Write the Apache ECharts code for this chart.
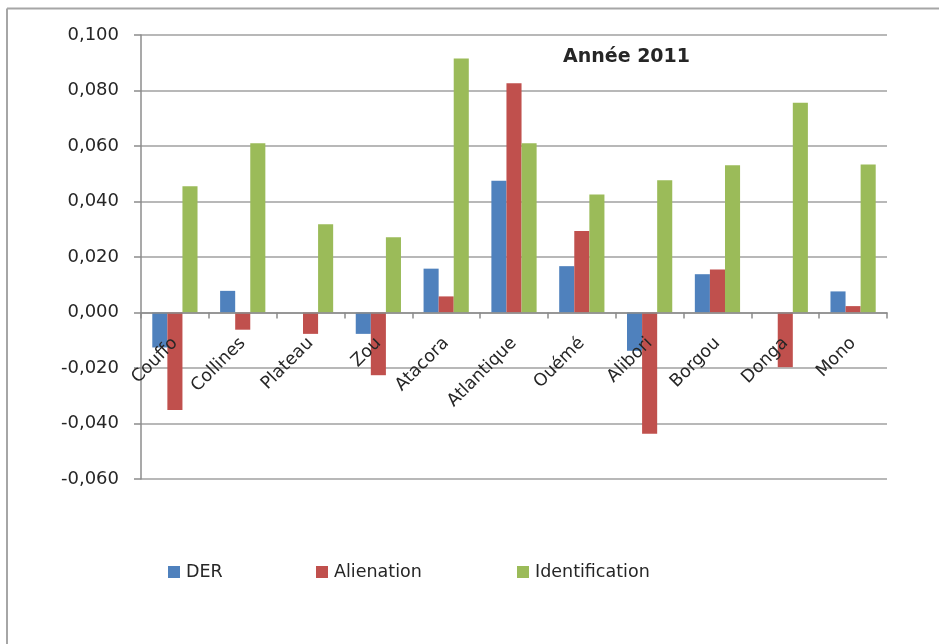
<!DOCTYPE html>
<html>
<head>
<meta charset="utf-8">
<script src="https://cdn.jsdelivr.net/npm/echarts@6/dist/echarts.min.js"></script>
<style>
html,body{margin:0;padding:0;background:#fff;}
#c{width:939px;height:644px;}
</style>
</head>
<body>
<div id="c"></div>
<script>
const categories = ['Couffo','Collines','Plateau','Zou','Atacora','Atlantique','Ouémé','Alibori','Borgou','Donga','Mono'];
const seriesNames = ['DER','Alienation','Identification'];
const derValues = [-0.0126, 0.0078, 0, -0.0077, 0.0158, 0.0475, 0.0167, -0.0138, 0.0138, 0, 0.0076];
const alienationValues = [-0.0351, -0.0062, -0.0077, -0.0226, 0.0058, 0.0826, 0.0294, -0.0437, 0.0155, -0.0197, 0.0023];
const identificationValues = [0.0455, 0.0610, 0.0318, 0.0271, 0.0915, 0.0610, 0.0425, 0.0477, 0.0531, 0.0756, 0.0533];
const yTicks = {min:-0.06, max:0.1, interval:0.02};
const titleText = 'Année 2011';

const colors = ['#4F81BD','#C0504D','#9BBB59'];
const font = 'DejaVu Sans';
const gridTop = 35, gridBottom = 165, chartH = 644;
const plotH = chartH - gridTop - gridBottom;
const zeroOffset = -((0 - yTicks.min) / (yTicks.max - yTicks.min)) * plotH;
const chart = echarts.init(document.getElementById('c'), null, {renderer:'canvas'});

function legendFor(i, left){
  return {
    data:[seriesNames[i]], left:left, top:563, itemWidth:12, itemHeight:12, itemGap:0,
    icon:'rect', padding:0,
    textStyle:{fontFamily:font, fontSize:17.5, color:'#262626', padding:[0,0,0,1]}
  };
}

chart.setOption({
  animation:false,
  color:colors,
  title:{
    text:titleText, left:563, top:48, padding:0,
    textStyle:{fontFamily:font, fontSize:19, fontWeight:'bold', color:'#262626'}
  },
  legend:[legendFor(0,168), legendFor(1,316), legendFor(2,517)],
  grid:{left:141, right:52, top:gridTop, bottom:gridBottom, containLabel:false},
  xAxis:{
    type:'category', data:categories, offset:zeroOffset, z:10,
    axisLine:{onZero:false, lineStyle:{color:'#8C8C8C', width:1.5}},
    axisTick:{show:true, length:6, alignWithLabel:false, interval:0, lineStyle:{color:'#8C8C8C', width:1.5}},
    axisLabel:{interval:0, rotate:45, margin:28, fontFamily:font, fontSize:17.5, color:'#262626'},
    splitLine:{show:false}
  },
  yAxis:{
    type:'value', min:yTicks.min, max:yTicks.max, interval:yTicks.interval,
    axisLine:{show:true, lineStyle:{color:'#8C8C8C', width:1.5}},
    axisTick:{show:true, length:7, lineStyle:{color:'#8C8C8C', width:1.5}},
    axisLabel:{margin:22, fontFamily:font, fontSize:18, color:'#262626',
      formatter:function(v){ return (Math.abs(v)<1e-9?0:v).toFixed(3).replace('.',','); }},
    splitLine:{show:true, lineStyle:{color:'#A0A0A0', width:1.5}}
  },
  graphic:[
    {type:'line', shape:{x1:7, y1:8.5, x2:939, y2:8.5}, style:{stroke:'#A6A6A6', lineWidth:2}, silent:true},
    {type:'line', shape:{x1:7, y1:8.5, x2:7, y2:644}, style:{stroke:'#A6A6A6', lineWidth:2}, silent:true}
  ],
  series:[
    {name:seriesNames[0], type:'bar', data:derValues, barGap:'0%', barCategoryGap:'33.3%', itemStyle:{color:colors[0]}},
    {name:seriesNames[1], type:'bar', data:alienationValues, barGap:'0%', barCategoryGap:'33.3%', itemStyle:{color:colors[1]}},
    {name:seriesNames[2], type:'bar', data:identificationValues, barGap:'0%', barCategoryGap:'33.3%', itemStyle:{color:colors[2]}}
  ]
});
</script>
</body>
</html>
